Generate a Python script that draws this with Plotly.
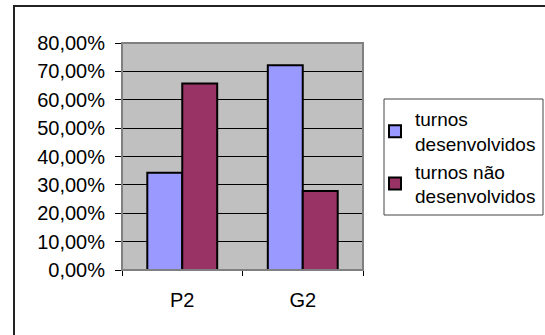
import plotly.graph_objects as go

categories = ["P2", "G2"]
series_names = ["turnos<br>desenvolvidos", "turnos não<br>desenvolvidos"]
desenvolvidos = [0.343, 0.722]
nao_desenvolvidos = [0.657, 0.278]
colors = ["#9999FF", "#993366"]

W, H = 545, 335
L, R, T, B = 122, 182, 43, 65
pw, ph = W - L - R, H - T - B

def px_x(x):
    return (x - L) / pw

def px_y(y):
    return (H - B - y) / ph

fig = go.Figure()
for name, vals, col in zip(series_names, [desenvolvidos, nao_desenvolvidos], colors):
    fig.add_trace(go.Bar(
        x=categories, y=vals, name=name,
        marker=dict(color=col, line=dict(color="black", width=2)),
    ))

font = dict(family="Liberation Sans, Arial, sans-serif", size=19, color="black")
tickfont = dict(family="Liberation Sans, Arial, sans-serif", size=20, color="black")

fig.update_layout(
    width=W, height=H,
    margin=dict(l=L, r=R, t=T, b=B, pad=0, autoexpand=False),
    paper_bgcolor="white",
    plot_bgcolor="#C0C0C0",
    font=font,
    separators=",.",
    barmode="group",
    bargap=0.42,
    bargroupgap=0,
    showlegend=True,
    legend=dict(
        xref="container", yref="container",
        x=375 / W, y=1 - 100 / H, xanchor="left", yanchor="top",
        bgcolor="rgba(0,0,0,0)", borderwidth=0,
        font=font, tracegroupgap=9, itemwidth=30,
    ),
    xaxis=dict(
        showgrid=False, showline=True, linecolor="black", linewidth=1,
        ticks="outside", tickson="boundaries", ticklen=5, tickcolor="black",
        ticklabelstandoff=12, tickfont=tickfont, fixedrange=True,
    ),
    yaxis=dict(
        range=[0, 0.8], dtick=0.1, tickformat=".2%",
        showgrid=True, gridcolor="black", gridwidth=1,
        showline=False, zeroline=False,
        ticks="outside", ticklen=6, tickcolor="black",
        ticklabelstandoff=6, tickfont=tickfont, fixedrange=True,
    ),
    shapes=[
        # plot area border
        dict(type="rect", xref="paper", yref="paper", x0=0, x1=1, y0=0, y1=1,
             line=dict(color="#808080", width=2), layer="above"),
        # legend box
        dict(type="rect", xref="paper", yref="paper",
             x0=px_x(384), x1=px_x(543), y0=px_y(215), y1=px_y(99),
             line=dict(color="#444444", width=1), fillcolor="white", layer="below"),
        # outer chart border
        dict(type="rect", xref="paper", yref="paper",
             x0=px_x(14), x1=px_x(560), y0=px_y(350), y1=px_y(6),
             line=dict(color="#222222", width=2), layer="below"),
    ],
)

fig.write_html("out.html", config={"displayModeBar": False},
               post_script="document.body.style.margin='0';")
